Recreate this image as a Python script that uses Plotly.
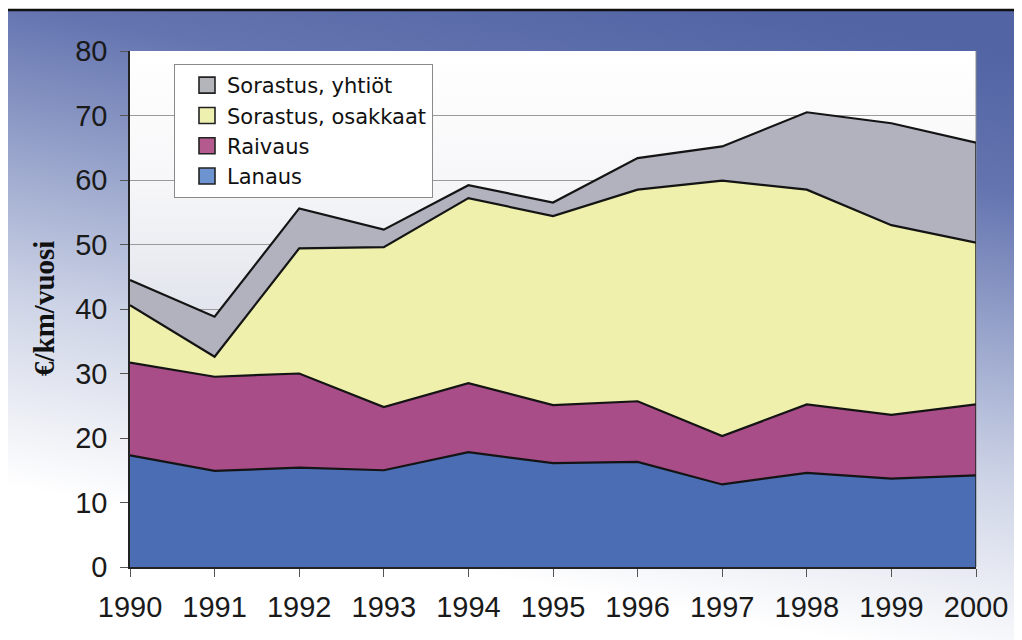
import base64
import plotly.graph_objects as go

years = [1990, 1991, 1992, 1993, 1994, 1995, 1996, 1997, 1998, 1999, 2000]
lanaus = [17.3, 14.9, 15.4, 15.0, 17.8, 16.1, 16.3, 12.8, 14.6, 13.7, 14.2]
raivaus = [14.4, 14.6, 14.6, 9.8, 10.7, 9.0, 9.4, 7.5, 10.6, 9.9, 11.0]
sorastus_osakkaat = [8.9, 3.1, 19.4, 24.8, 28.7, 29.3, 32.8, 39.6, 33.3, 29.4, 25.1]
sorastus_yhtiot = [3.9, 6.2, 6.2, 2.7, 2.0, 2.1, 4.9, 5.3, 12.0, 15.8, 15.5]

series_names = ["Lanaus", "Raivaus", "Sorastus, osakkaat", "Sorastus, yhtiöt"]
series_values = [lanaus, raivaus, sorastus_osakkaat, sorastus_yhtiot]
series_colors = ["#4a6db3", "#a94d88", "#eef0ab", "#b1b2be"]
legend_swatch_colors = ["#6d93d0", "#b45a8e", "#eef0b0", "#b4b5bb"]

y_ticks = [0, 10, 20, 30, 40, 50, 60, 70, 80]
y_title = "€/km/vuosi"

# the page body adds an 8px offset, so the figure is laid out in page pixels minus 8
OFF = 8
W, H = 1022 - OFF, 640 - OFF
L, R, T, B = 130 - OFF, 1022 - 976, 51 - OFF, 640 - 567
PW, PH = W - L - R, H - T - B


def px_x(page_px):
    return (page_px - OFF - L) / PW


def px_y(page_py):
    return (H - B - (page_py - OFF)) / PH


def svg_uri(svg):
    return "data:image/svg+xml;base64," + base64.b64encode(svg.encode("utf-8")).decode("ascii")


bg_svg = (
    "<svg xmlns='http://www.w3.org/2000/svg' width='1016' height='630' viewBox='0 0 1016 630' preserveAspectRatio='none'>"
    "<defs><linearGradient id='g' x1='0.75' y1='0' x2='0.45' y2='1'>"
    "<stop offset='0' stop-color='#5264a4'/>"
    "<stop offset='0.2' stop-color='#6474b0'/>"
    "<stop offset='0.42' stop-color='#9aa6cc'/>"
    "<stop offset='0.62' stop-color='#cdd3e6'/>"
    "<stop offset='0.8' stop-color='#eef0f6'/>"
    "<stop offset='0.9' stop-color='#ffffff'/>"
    "<stop offset='1' stop-color='#ffffff'/>"
    "</linearGradient></defs><rect width='1016' height='630' fill='url(#g)'/></svg>"
)

plot_svg = (
    "<svg xmlns='http://www.w3.org/2000/svg' width='846' height='516' viewBox='0 0 846 516' preserveAspectRatio='none'>"
    "<defs><linearGradient id='p' x1='0' y1='0' x2='0' y2='1'>"
    "<stop offset='0' stop-color='#ffffff'/>"
    "<stop offset='0.25' stop-color='#f7f7f9'/>"
    "<stop offset='0.5' stop-color='#e2e5ed'/>"
    "<stop offset='0.8' stop-color='#eef0f4'/>"
    "<stop offset='1' stop-color='#ffffff'/>"
    "</linearGradient></defs><rect width='846' height='516' fill='url(#p)'/></svg>"
)

fig = go.Figure()

for name, vals, col in zip(series_names, series_values, series_colors):
    fig.add_trace(go.Scatter(
        x=years, y=vals, name=name, mode="lines",
        stackgroup="one", fillcolor=col,
        line=dict(color="#141414", width=2.2),
        showlegend=False, hoverinfo="x+y+name",
    ))

total_last = sum(v[-1] for v in series_values)
fig.add_trace(go.Scatter(
    x=[years[-1], years[-1]], y=[0, total_last], mode="lines",
    line=dict(color="#222222", width=1.5), showlegend=False, hoverinfo="skip",
))

# legend entries (square swatches), top to bottom as in the reference
for name, col in reversed(list(zip(series_names, legend_swatch_colors))):
    fig.add_trace(go.Scatter(
        x=[None], y=[None], mode="markers", name=name,
        marker=dict(symbol="square", size=16, color=col, line=dict(color="#222222", width=1.6)),
    ))

fig.update_layout(
    width=W, height=H,
    margin=dict(l=L, r=R, t=T, b=B),
    paper_bgcolor="white",
    plot_bgcolor="rgba(0,0,0,0)",
    font=dict(family="Liberation Sans, Arial, sans-serif", color="#1a1a1a"),
    showlegend=True,
    legend=dict(
        x=px_x(174), y=px_y(64), xanchor="left", yanchor="top",
        bgcolor="white", bordercolor="#8a8a8a", borderwidth=1,
        font=dict(size=21, family="DejaVu Sans, Liberation Sans, sans-serif", color="#111111"),
        traceorder="normal", tracegroupgap=0, itemwidth=30, indentation=12,
    ),
    xaxis=dict(
        range=[years[0], years[-1]], tickmode="array", tickvals=years,
        ticktext=[str(y) for y in years],
        showgrid=False, zeroline=False,
        showline=True, linecolor="#222222", linewidth=1.5,
        ticks="outside", ticklen=8, tickcolor="#555555", tickwidth=1,
        tickfont=dict(size=29), ticklabelstandoff=5,
    ),
    yaxis=dict(
        range=[0, 80], tickmode="array", tickvals=y_ticks,
        showgrid=True, gridcolor="#9a9a9a", gridwidth=1, zeroline=False,
        showline=True, linecolor="#222222", linewidth=1.5,
        ticks="outside", ticklen=8, tickcolor="#555555", tickwidth=1,
        tickfont=dict(size=29), ticklabelstandoff=7,
    ),
    images=[
        dict(source=svg_uri(bg_svg), xref="paper", yref="paper",
             x=px_x(6), y=px_y(10), sizex=(1022 - 6) / PW, sizey=(640 - 10) / PH,
             xanchor="left", yanchor="top", sizing="stretch", layer="below"),
        dict(source=svg_uri(plot_svg), xref="paper", yref="paper",
             x=0, y=1, sizex=1, sizey=1,
             xanchor="left", yanchor="top", sizing="stretch", layer="below"),
    ],
    shapes=[
        dict(type="line", xref="paper", yref="paper", x0=px_x(6), x1=px_x(1022), y0=px_y(10), y1=px_y(10),
             line=dict(color="#111111", width=2.5)),
        dict(type="line", xref="paper", yref="paper", x0=px_x(6), x1=px_x(6), y0=px_y(10), y1=px_y(640),
             line=dict(color="#aaaaaa", width=1)),
        dict(type="line", xref="paper", yref="paper", x0=1, x1=1, y0=0, y1=1,
             line=dict(color="#8a8a8a", width=1), layer="below"),
    ],
    annotations=[
        dict(text="<b>" + y_title + "</b>", textangle=-90, xref="paper", yref="paper",
             x=px_x(44), y=0.5, xanchor="center", yanchor="middle", showarrow=False,
             font=dict(family="Liberation Serif, Times New Roman, serif", size=29, color="#111111")),
    ],
)

fig.write_html("out.html")
